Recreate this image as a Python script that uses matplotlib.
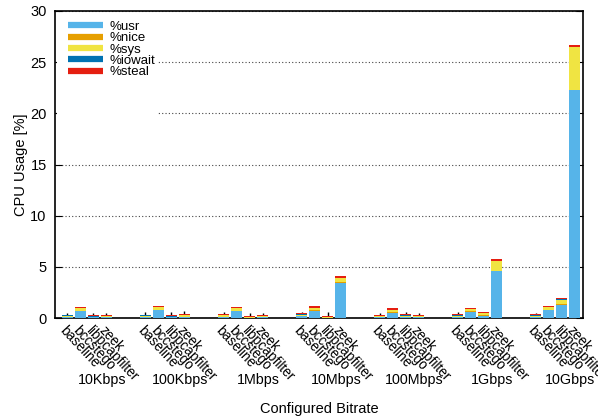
import matplotlib
matplotlib.use("Agg")
import matplotlib.pyplot as plt
from matplotlib.lines import Line2D
from matplotlib.patches import Rectangle
import numpy as np

plt.rcParams['font.family'] = ['Liberation Sans', 'DejaVu Sans']

bitrates = ["10Kbps", "100Kbps", "1Mbps", "10Mbps", "100Mbps", "1Gbps", "10Gbps"]
tools = ["baseline", "bccstego", "libpcapfilter", "zeek"]
series = ["%usr", "%nice", "%sys", "%iowait", "%steal"]
colors = ["#56B4E9", "#E69F00", "#F0E442", "#0072B2", "#E51E10"]

# mean CPU share per bitrate (rows) and tool (columns)
usr = [[0.08, 0.65, 0.05, 0.05],
       [0.08, 0.78, 0.05, 0.08],
       [0.10, 0.68, 0.02, 0.06],
       [0.15, 0.72, 0.02, 3.45],
       [0.07, 0.53, 0.08, 0.06],
       [0.10, 0.62, 0.23, 4.60],
       [0.10, 0.80, 1.30, 22.30]]
nice = [[0.03, 0.02, 0.02, 0.06],
        [0.03, 0.02, 0.02, 0.03],
        [0.03, 0.02, 0.01, 0.02],
        [0.03, 0.02, 0.01, 0.02],
        [0.03, 0.02, 0.02, 0.02],
        [0.02, 0.02, 0.02, 0.02],
        [0.02, 0.02, 0.02, 0.02]]
sys_ = [[0.12, 0.27, 0.03, 0.07],
        [0.12, 0.27, 0.03, 0.15],
        [0.15, 0.25, 0.02, 0.08],
        [0.15, 0.23, 0.02, 0.40],
        [0.10, 0.22, 0.10, 0.10],
        [0.10, 0.22, 0.23, 0.98],
        [0.10, 0.23, 0.47, 4.20]]
iowait = [[0.03, 0.03, 0.13, 0.02],
          [0.03, 0.03, 0.13, 0.03],
          [0.03, 0.03, 0.02, 0.02],
          [0.03, 0.05, 0.02, 0.02],
          [0.02, 0.05, 0.08, 0.02],
          [0.05, 0.03, 0.03, 0.00],
          [0.05, 0.03, 0.02, 0.00]]
steal = [[0.07, 0.08, 0.07, 0.07],
         [0.08, 0.10, 0.07, 0.10],
         [0.08, 0.10, 0.13, 0.07],
         [0.08, 0.12, 0.17, 0.21],
         [0.07, 0.12, 0.08, 0.07],
         [0.08, 0.10, 0.10, 0.20],
         [0.08, 0.10, 0.10, 0.15]]
# spread of the total usage
total_err = [[0.20, 0.00, 0.20, 0.20],
             [0.25, 0.00, 0.25, 0.25],
             [0.20, 0.00, 0.25, 0.25],
             [0.15, 0.00, 0.30, 0.00],
             [0.20, 0.00, 0.20, 0.20],
             [0.20, 0.00, 0.00, 0.00],
             [0.15, 0.00, 0.00, 0.00]]

data = [np.array(s, dtype=float).ravel() for s in (usr, nice, sys_, iowait, steal)]
err = np.array(total_err).ravel()

slots_per_group = len(tools) + 2
x = np.array([g * slots_per_group + i for g in range(len(bitrates)) for i in range(len(tools))], dtype=float)

fig = plt.figure(figsize=(5.98, 4.20), dpi=100)
ax = fig.add_axes([55 / 598, 102 / 420, 528 / 598, 307 / 420])

bottom = np.zeros_like(x)
for vals, col in zip(data, colors):
    ax.bar(x, vals, width=0.85, bottom=bottom, color=col, linewidth=0, zorder=3)
    bottom = bottom + vals

mask = err > 0
ax.errorbar(x[mask], bottom[mask], yerr=err[mask], fmt='none', ecolor='black',
            elinewidth=1.0, capsize=0, zorder=2)

ax.set_xlim(-0.96, 39.65)
ax.set_ylim(0, 30)
ax.set_yticks(np.arange(0, 31, 5))
ax.tick_params(axis='y', direction='in', length=5, right=True, labelsize=10.5, pad=6)
ax.set_xticks(x)
ax.set_xticklabels(tools * len(bitrates), rotation=-47, ha='left', va='top',
                   rotation_mode='anchor', fontsize=9.8)
ax.tick_params(axis='x', length=0, pad=4)

ax.set_axisbelow(True)
ax.yaxis.grid(True, linestyle=(0, (1, 2)), color='#444444', linewidth=0.8)

for sp in ax.spines.values():
    sp.set_linewidth(1.2)

# group titles under each cluster
for g, name in enumerate(bitrates):
    ax.text(g * slots_per_group + 2.65, -0.203, name, transform=ax.get_xaxis_transform(),
            ha='center', va='center', fontsize=10.3)

ax.set_ylabel("CPU Usage [%]", fontsize=10.5)
ax.yaxis.set_label_coords(-0.052, 0.5)
ax.set_xlabel("Configured Bitrate", fontsize=10.5, labelpad=0)
ax.xaxis.set_label_coords(0.5, -0.272)

# opaque key area
ax.add_patch(Rectangle((0.003, 0.6), 0.192, 0.395, transform=ax.transAxes,
                       facecolor='white', edgecolor='none', zorder=2.5))
handles = [Line2D([0], [0], color=c, lw=4.5, solid_capstyle='butt') for c in colors]
leg = ax.legend(handles, series, loc='upper left', bbox_to_anchor=(0.01, 0.995),
                frameon=False, fontsize=9.5, handlelength=2.6, handletextpad=0.55,
                labelspacing=-0.06, borderaxespad=0.2)
leg.set_zorder(5)

fig.savefig("out.png", dpi=100)
